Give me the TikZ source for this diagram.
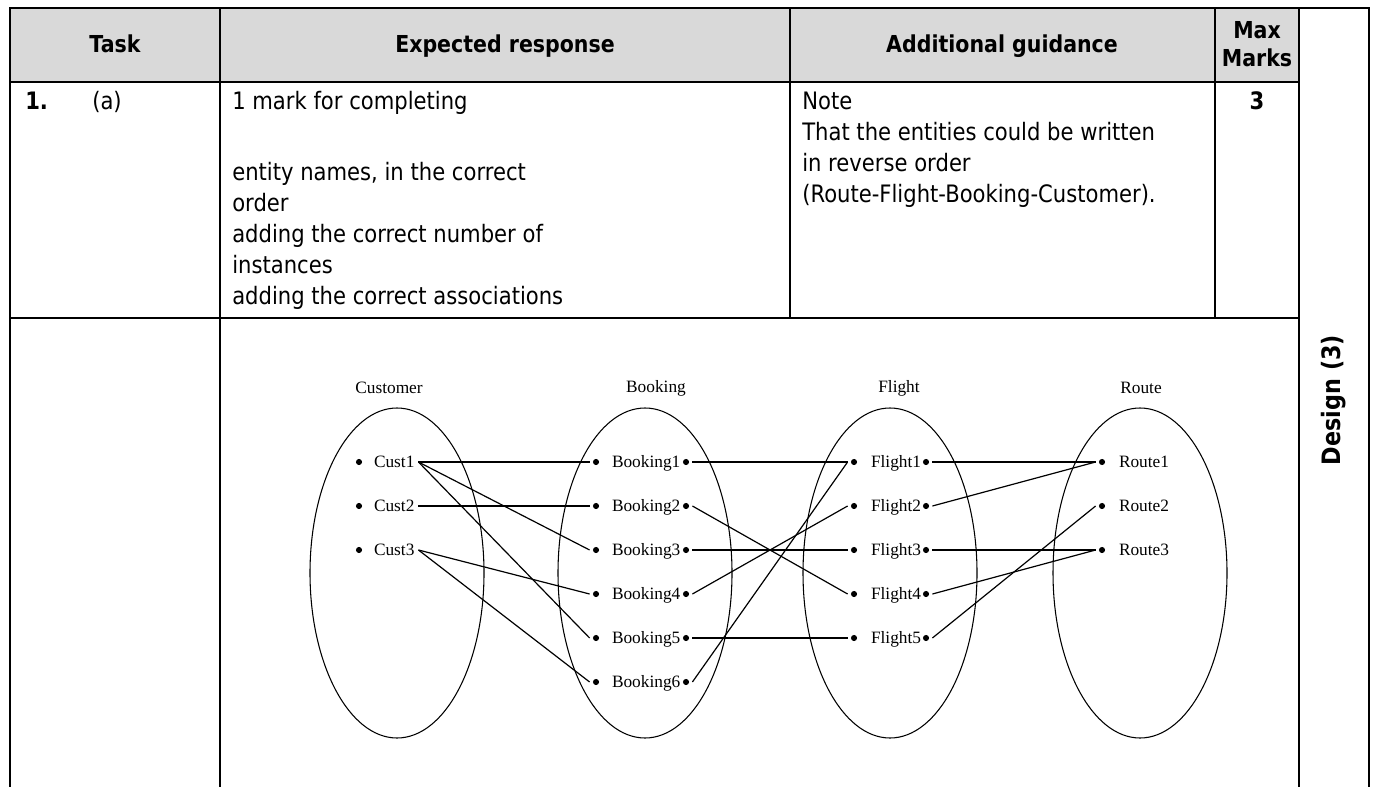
\documentclass[tikz,border=0pt]{standalone}
\usepackage{fontspec}
\setmainfont{DejaVu Sans}[FakeStretch=0.88]
\newfontfamily\serifdiag{Liberation Serif}
\usetikzlibrary{shapes.geometric}
\definecolor{hdrgray}{HTML}{D9D9D9}
\begin{document}
\begin{tikzpicture}[x=0.75pt,y=-0.75pt,
  tbl/.style={line width=1.5pt},
  hdr/.style={font=\bfseries\fontsize{17.5}{21}\selectfont, inner sep=0pt, anchor=base},
  body/.style={font=\fontsize{18}{22}\selectfont, anchor=base west, inner sep=0pt},
  ell/.style={draw, ellipse, line width=0.8pt, inner sep=0pt, minimum width=130.5pt, minimum height=247.5pt},
  dot/.style={circle, fill, inner sep=0pt, minimum size=4.6pt, outer sep=2.5pt},
  itm/.style={font=\serifdiag\fontsize{13}{15}\selectfont, inner sep=0pt, outer sep=3pt, text height=1.6ex, text depth=0pt, anchor=west},
  ent/.style={font=\serifdiag\fontsize{13}{15}\selectfont, inner sep=0pt},
  link/.style={line width=0.9pt}]
\useasboundingbox (0,0) rectangle (1376,787);
% table
\fill[hdrgray] (10,8) rectangle (1299,82);
\draw[tbl] (10,787) -- (10,8) -- (1369,8) -- (1369,787);
\draw[tbl] (10,82) -- (1299,82);
\draw[tbl] (10,318) -- (1299,318);
\draw[tbl] (220,8) -- (220,787);
\draw[tbl] (790,8) -- (790,318);
\draw[tbl] (1215,8) -- (1215,318);
\draw[tbl] (1299,8) -- (1299,787);
% header
\node[hdr] (hTask) at (115,53) {Task};
\node[hdr] (hExp) at (505,53) {Expected response};
\node[hdr] (hAdd) at (1002,53) {Additional guidance};
\node[hdr] (hMax1) at (1257,39) {Max};
\node[hdr] (hMax2) at (1257,67) {Marks};
% row 1
\node[body, font=\bfseries\fontsize{18}{22}\selectfont] (qnum) at (25,110) {1.};
\node[body] (qpart) at (92,110) {(a)};
\node[body] (exp1) at (232,110) {1 mark for completing};
\node[body] (exp2) at (232,181) {entity names, in the correct};
\node[body] (exp3) at (232,212) {order};
\node[body] (exp4) at (232,243) {adding the correct number of};
\node[body] (exp5) at (232,274) {instances};
\node[body] (exp6) at (232,305) {adding the correct associations};
\node[body] (note1) at (802,110) {Note};
\node[body] (note2) at (802,141) {That the entities could be written};
\node[body] (note3) at (802,172) {in reverse order};
\node[body] (note4) at (802,203) {(Route-Flight-Booking-Customer).};
\node[hdr, font=\bfseries\fontsize{18}{22}\selectfont] (marks) at (1257,110) {3};
\node[font=\bfseries\fontsize{19}{22}\selectfont, inner sep=0pt, rotate=90] (design) at (1334,400) {Design (3)};
% diagram ellipses and titles
\node[ell] (eCust) at (397,573) {};
\node[ell] (eBook) at (645,573) {};
\node[ell] (eFlight) at (890,573) {};
\node[ell] (eRoute) at (1140,573) {};
\node[ent] (tCust) at (389,388) {Customer};
\node[ent] (tBook) at (656,388) {Booking};
\node[ent] (tFlight) at (899,388) {Flight};
\node[ent] (tRoute) at (1141,388) {Route};
% customers
\foreach \i/\y in {1/462,2/506,3/550}{
  \node[dot] (c\i d) at (359,\y) {};
  \node[itm] (c\i) at (370,\y) {Cust\i};
}
% bookings
\foreach \i/\y in {1/462,2/506,3/550,4/594,5/638,6/682}{
  \node[dot] (b\i l) at (596,\y) {};
  \node[itm] (b\i) at (608,\y) {Booking\i};
  \node[dot] (b\i r) at (686,\y) {};
}
% flights
\foreach \i/\y in {1/462,2/506,3/550,4/594,5/638}{
  \node[dot] (f\i l) at (854,\y) {};
  \node[itm] (f\i) at (867,\y) {Flight\i};
  \node[dot] (f\i r) at (926,\y) {};
}
% routes
\foreach \i/\y in {1/462,2/506,3/550}{
  \node[dot] (r\i l) at (1102,\y) {};
  \node[itm] (r\i) at (1115,\y) {Route\i};
}
% associations
\foreach \a/\b in {1/1,1/3,1/5,2/2,3/4,3/6}
  \draw[link] (c\a.east) -- (b\b l.west);
\foreach \a/\b in {1/1,2/4,3/3,4/2,5/5,6/1}
  \draw[link] (b\a r.east) -- (f\b l.west);
\foreach \a/\b in {1/1,2/1,3/3,4/3,5/2}
  \draw[link] (f\a r.east) -- (r\b l.west);
\end{tikzpicture}
\end{document}
